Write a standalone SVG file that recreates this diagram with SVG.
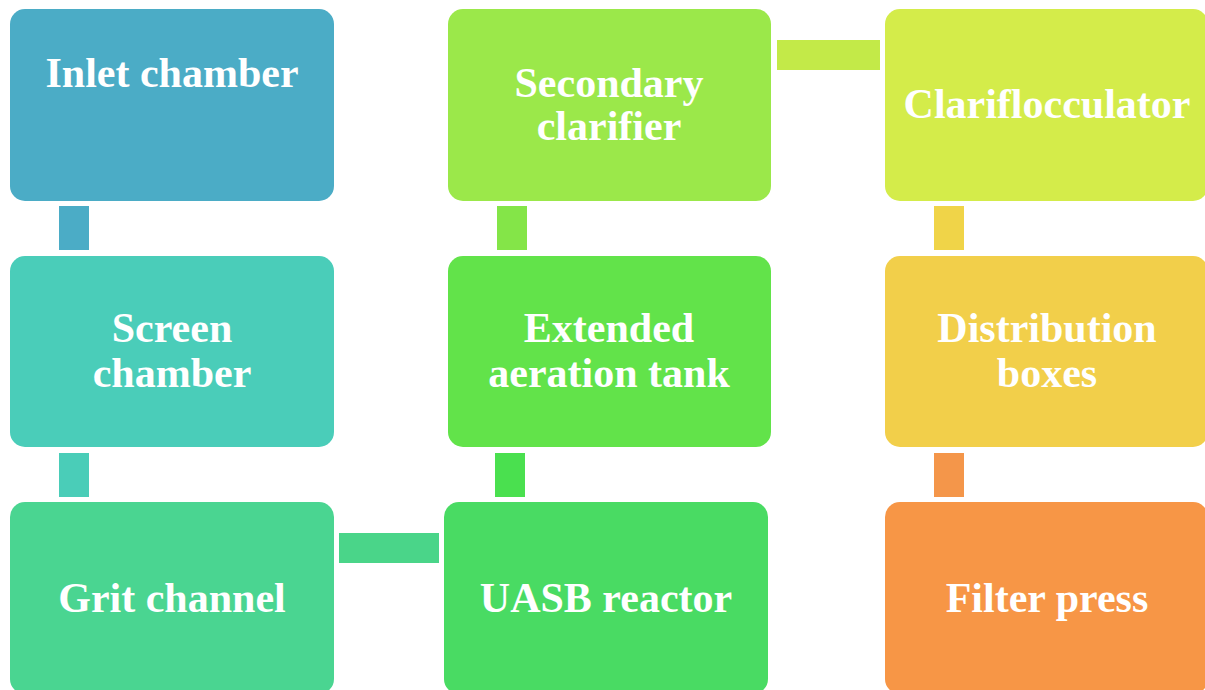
<svg xmlns="http://www.w3.org/2000/svg" width="1205" height="690" viewBox="0 0 1205 690">
<style>
.box{stroke:none}
.lbl{font-family:"Liberation Serif","Times New Roman",serif;font-weight:bold;font-size:42px;fill:#ffffff;text-anchor:middle}
</style>
<rect width="1205" height="690" fill="#ffffff"/>
<g id="connectors">
<rect x="59" y="206" width="30" height="44" fill="#4BACC6"/>
<rect x="59" y="453" width="30" height="44" fill="#4ACDB8"/>
<rect x="339" y="533" width="100" height="30" fill="#4AD589"/>
<rect x="495" y="453" width="30" height="44" fill="#4AE04F"/>
<rect x="497" y="206" width="30" height="44" fill="#84E548"/>
<rect x="777" y="40" width="103" height="30" fill="#C3EA48"/>
<rect x="934" y="206" width="30" height="44" fill="#F0D448"/>
<rect x="934" y="453" width="30" height="44" fill="#F4964A"/>
</g>
<g id="inlet">
<rect class="box" x="10" y="9" width="324" height="192" rx="15" fill="#4BACC6"/>
<text class="lbl" x="172" y="87">Inlet chamber</text>
</g>
<g id="screen">
<rect class="box" x="10" y="256" width="324" height="191" rx="15" fill="#4ACDB9"/>
<text class="lbl" x="172" y="342">Screen</text>
<text class="lbl" x="172" y="387">chamber</text>
</g>
<g id="grit">
<rect class="box" x="10" y="502" width="324" height="192" rx="15" fill="#4AD591"/>
<text class="lbl" x="172" y="612">Grit channel</text>
</g>
<g id="uasb">
<rect class="box" x="444" y="502" width="324" height="192" rx="15" fill="#49DB63"/>
<text class="lbl" x="606" y="612">UASB reactor</text>
</g>
<g id="extended">
<rect class="box" x="448" y="256" width="323" height="191" rx="15" fill="#62E34A"/>
<text class="lbl" x="609" y="342">Extended</text>
<text class="lbl" x="609" y="387">aeration tank</text>
</g>
<g id="secondary">
<rect class="box" x="448" y="9" width="323" height="192" rx="15" fill="#9BE84A"/>
<text class="lbl" x="609" y="97">Secondary</text>
<text class="lbl" x="609" y="140">clarifier</text>
</g>
<g id="clarifloc">
<rect class="box" x="885" y="9" width="323" height="192" rx="15" fill="#D4EC4A"/>
<text class="lbl" x="1047" y="118">Clariflocculator</text>
</g>
<g id="distribution">
<rect class="box" x="885" y="256" width="323" height="191" rx="15" fill="#F2CF4A"/>
<text class="lbl" x="1047" y="342">Distribution</text>
<text class="lbl" x="1047" y="387">boxes</text>
</g>
<g id="filter">
<rect class="box" x="885" y="502" width="323" height="192" rx="15" fill="#F79646"/>
<text class="lbl" x="1047" y="612">Filter press</text>
</g>
</svg>
